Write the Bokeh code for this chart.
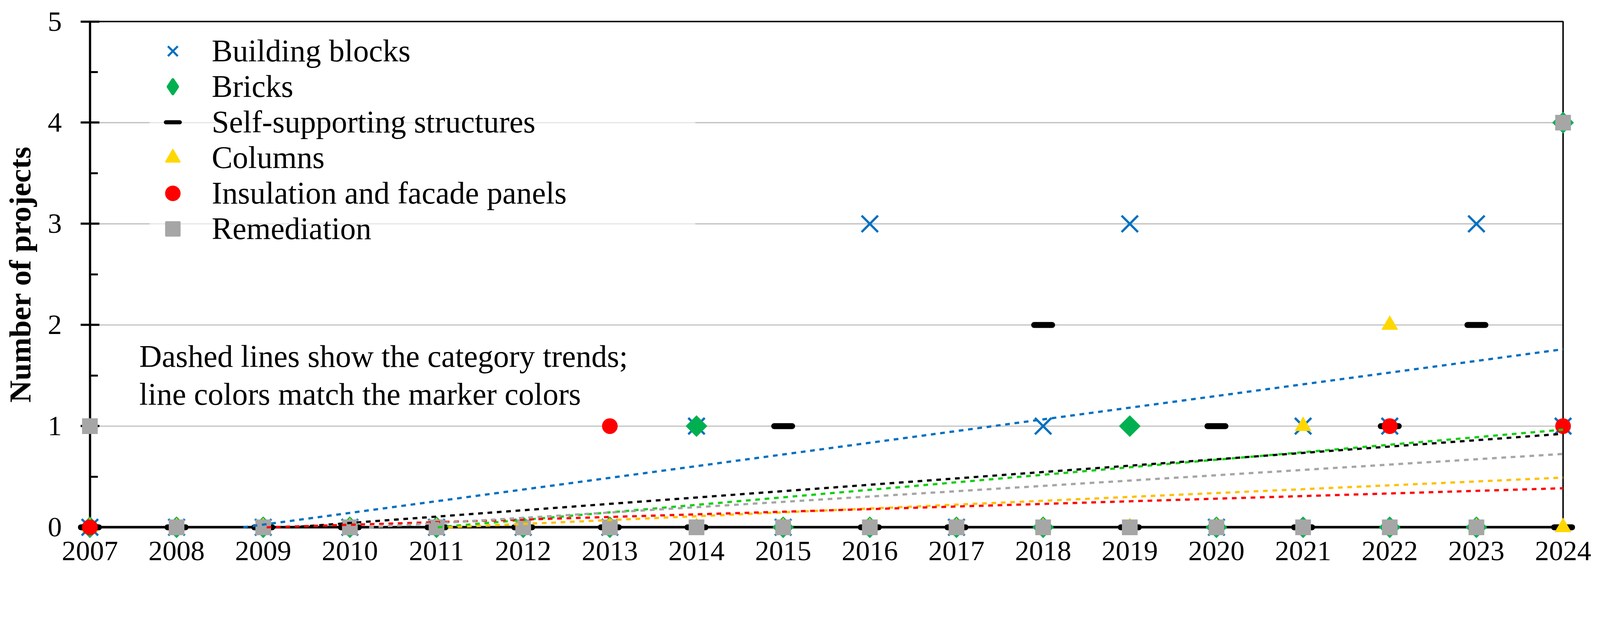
import numpy as np
from bokeh.plotting import figure
from bokeh.models import (Range1d, FixedTicker, BoxAnnotation, Legend, LegendItem,
                          Label, ColumnDataSource)
from bokeh.embed import file_html
from bokeh.resources import INLINE

# ---------------- data ----------------
years = list(range(2007, 2025))
building_blocks = [0, 0, 0, 0, 0, 0, 0, 1, 0, 3, 0, 1, 3, 0, 1, 1, 3, 1]
bricks          = [0, 0, 0, 0, 0, 0, 0, 1, 0, 0, 0, 0, 1, 0, 0, 0, 0, 4]
self_supporting = [0, 0, 0, 0, 0, 0, 0, 0, 1, 0, 0, 2, 0, 1, 0, 1, 2, 0]
columns         = [0, 0, 0, 0, 0, 0, 0, 0, 0, 0, 0, 0, 0, 0, 1, 2, 0, 0]
insulation      = [0, 0, 0, 0, 0, 0, 1, 0, 0, 0, 0, 0, 0, 0, 0, 1, 0, 1]
remediation     = [1, 0, 0, 0, 0, 0, 0, 0, 0, 0, 0, 0, 0, 0, 0, 0, 0, 4]

series_labels = ["Building blocks", "Bricks", "Self-supporting structures",
                 "Columns", "Insulation and facade panels", "Remediation"]
y_ticks = [0, 1, 2, 3, 4, 5]
y_minor = [0.5, 1.5, 2.5, 3.5, 4.5]
y_title = "Number of projects"
note_lines = ["Dashed lines show the category trends;",
              "line colors match the marker colors"]

# ---------------- style / layout ----------------
BLUE = "#0070C0"
GREEN = "#00B050"
GREEN_T = "#10D010"
YELLOW = "#FFD700"
YELLOW_T = "#FFC000"
RED = "#FF0000"
GRAY = "#A6A6A6"
FONT = "Liberation Serif"

K = 1.045            # screenshot pixels per CSS pixel (measured)
W, H = 4085, 1500    # canvas size in CSS px


def cpx(img):
    """target-picture pixel -> canvas CSS pixel"""
    return img / K


def sz(img):
    """target-picture size -> CSS size"""
    return img / K


X0, X1 = years[0], years[-1]
Y0, Y1 = y_ticks[0], y_ticks[-1]

# plot box position (pixels of the target picture)
ax_l, ax_r = cpx(240), cpx(4181)
ax_t, ax_b = cpx(57), cpx(1410)
xpp = (X1 - X0) / (ax_r - ax_l)
ypp = (Y1 - Y0) / (ax_b - ax_t)
x_start, x_end = X0 - ax_l * xpp, X1 + (W - ax_r) * xpp
y_start, y_end = Y0 - (H - ax_b) * ypp, Y1 + ax_t * ypp


def dx(img):
    return x_start + cpx(img) * xpp


def dy(img):
    return y_end - cpx(img) * ypp


p = figure(width=W, height=H, output_backend="svg", toolbar_location=None, title=None,
           x_range=Range1d(x_start, x_end), y_range=Range1d(y_start, y_end),
           min_border_left=0, min_border_right=0, min_border_top=0,
           min_border_bottom=0)
p.outline_line_color = None
p.xgrid.visible = False
p.ygrid.visible = False
p.background_fill_color = "white"
p.border_fill_color = "white"

# gridlines limited to the plot box
grid_levels = [t for t in y_ticks if Y0 < t < Y1]
p.segment(x0=[X0] * len(grid_levels), x1=[X1] * len(grid_levels),
          y0=grid_levels, y1=grid_levels, line_color="#BDBDBD", line_width=sz(3),
          level="underlay")

# box border (top / right)
p.add_layout(BoxAnnotation(left=X0, right=X1, bottom=Y0, top=Y1, fill_color=None,
                           line_color="black", line_alpha=1.0, line_width=sz(4)))

# x axis
xa = p.xaxis[0]
xa.fixed_location = Y0
xa.bounds = (X0, X1)
xa.ticker = FixedTicker(ticks=years)
xa.major_label_overrides = {y: str(y) for y in years}
xa.major_tick_in = 0
xa.major_tick_out = 0
xa.minor_tick_in = 0
xa.minor_tick_out = 0
xa.axis_line_width = sz(7)
xa.axis_line_color = "black"
xa.major_label_text_font = FONT
xa.major_label_text_font_size = "72px"
xa.major_label_text_color = "black"
xa.major_label_standoff = 37

# y axis
ya = p.yaxis[0]
ya.fixed_location = X0
ya.bounds = (Y0, Y1)
ya.ticker = FixedTicker(ticks=y_ticks, minor_ticks=y_minor)
ya.major_tick_in = 24
ya.major_tick_out = 24
ya.minor_tick_in = 20
ya.minor_tick_out = 0
ya.major_tick_line_width = sz(6)
ya.minor_tick_line_width = sz(5)
ya.major_tick_line_color = "black"
ya.minor_tick_line_color = "black"
ya.axis_line_width = sz(6)
ya.axis_line_color = "black"
ya.major_label_text_font = FONT
ya.major_label_text_font_size = "72px"
ya.major_label_text_color = "black"
ya.major_label_standoff = 48
ya.axis_label = y_title
ya.axis_label_text_font = FONT
ya.axis_label_text_font_style = "bold"
ya.axis_label_text_font_size = "79px"
ya.axis_label_text_color = "black"
ya.axis_label_standoff = 25

src = ColumnDataSource(dict(year=years, bb=building_blocks, br=bricks,
                            ss=self_supporting, co=columns, ins=insulation,
                            re=remediation))

# markers (drawn above axes)
p.scatter("year", "bb", source=src, marker="x", size=sz(62), line_color=BLUE,
          line_width=sz(6), level="overlay")
p.scatter("year", "br", source=src, marker="square", angle=np.pi / 4, size=sz(41),
          fill_color=GREEN, line_color=None, level="overlay")
p.scatter("year", "ss", source=src, marker="dash", size=sz(48), line_color="black",
          line_width=sz(16), line_cap="round", level="overlay")
p.scatter("year", "co", source=src, marker="triangle", size=sz(45), fill_color=YELLOW,
          line_color=None, level="overlay")
p.scatter("year", "ins", source=src, marker="circle", size=sz(42), fill_color=RED,
          line_color=None, level="overlay")
p.scatter("year", "re", source=src, marker="square", size=sz(42), fill_color=GRAY,
          line_color=None, level="overlay")

# linear trend lines (least squares), shown for y >= 0
trend_specs = [(building_blocks, BLUE), (bricks, GREEN_T), (self_supporting, "black"),
               (columns, YELLOW_T), (insulation, RED), (remediation, GRAY)]
yrs = np.array(years, dtype=float)
for vals, col in trend_specs:
    m, b = np.polyfit(yrs, np.array(vals, dtype=float), 1)
    xs = X0
    if m > 0 and m * X0 + b < 0:
        xs = -b / m
    xline = [xs, X1]
    yline = [m * x + b for x in xline]
    p.line(xline, yline, line_color=col, line_width=sz(6), line_dash="12 12",
           level="overlay")

# legend (separate, hidden renderers carry the legend styling)
lg = [
    p.scatter("year", "bb", source=src, marker="x", line_color=BLUE, line_width=sz(5.5),
              visible=False),
    p.scatter("year", "br", source=src, marker="diamond", fill_color=GREEN,
              line_color=GREEN, line_width=8, line_join="round", visible=False),
    p.scatter("year", "ss", source=src, marker="dash", line_color="black",
              line_width=sz(11), line_cap="round", visible=False),
    p.scatter("year", "co", source=src, marker="triangle", fill_color=YELLOW,
              line_color=YELLOW, line_width=4, line_join="round", visible=False),
    p.scatter("year", "ins", source=src, marker="circle", fill_color=RED,
              line_color=RED, line_width=4, visible=False),
    p.scatter("year", "re", source=src, marker="square", fill_color=GRAY,
              line_color=GRAY, line_width=4, visible=False),
]
leg_pad = 43
glyph_w = 118
item_h = int(round(sz(92.8)))
items_left = cpx(462) - glyph_w / 2
label_x = cpx(566)
standoff = label_x - items_left - glyph_w
label_w = cpx(1905) - leg_pad - label_x
items_top = cpx(148) - item_h / 2
n_items = len(series_labels)
items_bottom = items_top + n_items * item_h
legend = Legend(items=[LegendItem(label=lab, renderers=[r]) for lab, r in zip(series_labels, lg)],
                location=(int(round(items_left)), int(round(H - items_bottom))),
                orientation="vertical", padding=leg_pad, spacing=0, margin=0,
                glyph_width=glyph_w, glyph_height=item_h, label_height=item_h,
                label_width=int(round(label_w)), label_standoff=int(round(standoff)),
                label_text_font=FONT, label_text_font_size="80px",
                label_text_color="black",
                background_fill_color="white", background_fill_alpha=0.6,
                border_line_color=None, inactive_fill_alpha=0.0)
p.add_layout(legend)

# note text (vertically centred on the em box)
note_centres = [952, 1054]
for t, c in zip(note_lines, note_centres):
    p.add_layout(Label(x=dx(372), y=dy(c), text=t, text_font=FONT,
                       text_font_size="80px", text_color="black",
                       text_baseline="middle", text_align="left"))

open("out.html", "w").write(file_html(p, INLINE))
